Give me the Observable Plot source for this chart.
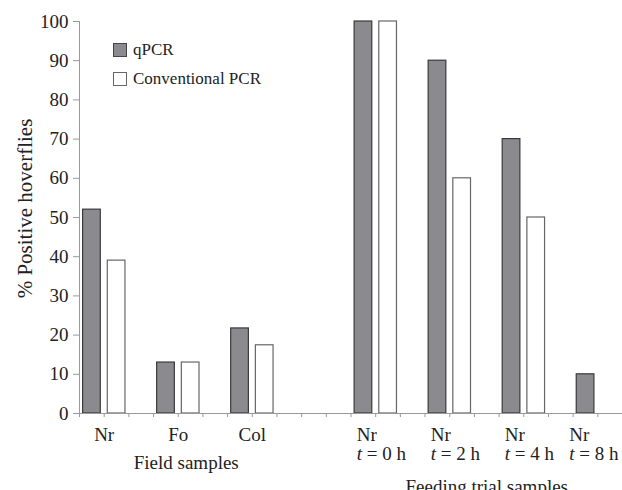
<!DOCTYPE html>
<html>
<head>
<meta charset="utf-8">
<script src="https://cdn.jsdelivr.net/npm/d3@7"></script>
<script src="https://cdn.jsdelivr.net/npm/@observablehq/plot@0.6"></script>
<style>
  html, body { margin: 0; padding: 0; background: white; }
  #wrap { position: relative; width: 622px; height: 490px; overflow: hidden; }
  .legend { position: absolute; left: 113px; top: 43px; font-family: "Liberation Serif", "Times New Roman", "DejaVu Serif", serif; font-size: 17px; color: #222; }
  .legend .row { display: flex; align-items: center; height: 14px; margin-bottom: 15px; }
  .legend .sw { width: 14px; height: 14px; box-sizing: border-box; margin-right: 6px; }
</style>
</head>
<body>
<div id="wrap">
  <div id="chart"></div>
  <div class="legend">
    <div class="row"><div class="sw" style="background:#8b8b8f;border:1px solid #444"></div><span>qPCR</span></div>
    <div class="row"><div class="sw" style="background:#fff;border:1px solid #666"></div><span>Conventional PCR</span></div>
  </div>
</div>
<script>
// ---- data ----
const groups = ["Nr", "Fo", "Col", "Nr", "Nr", "Nr", "Nr"];
const times = ["", "", "", "t = 0 h", "t = 2 h", "t = 4 h", "t = 8 h"];
const sections = ["Field samples", "Field samples", "Field samples",
  "Feeding trial samples", "Feeding trial samples", "Feeding trial samples", "Feeding trial samples"];
const qpcr = [52, 13, 21.7, 100, 90, 70, 10];
const conventional = [39, 13, 17.4, 100, 60, 50, 0];
const yTicks = [0, 10, 20, 30, 40, 50, 60, 70, 80, 90, 100];
const seriesNames = ["qPCR", "Conventional PCR"];

// ---- layout of slots (2 bars + 1 gap per group, 2 extra gap slots between sections) ----
const slots = [];
let s = 0;
groups.forEach((g, i) => {
  if (i > 0 && sections[i] !== sections[i - 1]) s += 2;
  slots.push(s);
  s += 3;
});
const nSlots = s - 1;

const bars = [];
groups.forEach((g, i) => {
  bars.push({slot: slots[i], value: qpcr[i], series: seriesNames[0]});
  bars.push({slot: slots[i] + 1, value: conventional[i], series: seriesNames[1]});
});
const groupData = groups.map((g, i) => ({
  name: g, time: times[i], section: sections[i], center: slots[i] + 1,
  label: times[i] ? g + "\n" + times[i] : g
}));
const sectionNames = [...new Set(sections)];
const sectionData = sectionNames.map(n => ({name: n, center: d3.mean(groupData.filter(d => d.section === n), d => d.center)}));

const font = "'Liberation Serif', 'Times New Roman', 'DejaVu Serif', serif";
const chart = Plot.plot({
  width: 622,
  height: 490,
  marginLeft: 79,
  marginRight: 0,
  marginTop: 21,
  marginBottom: 77,
  style: {fontFamily: font, fontSize: "19px", color: "#222", background: "white"},
  x: {domain: [0, nSlots], axis: null},
  y: {domain: [0, 100], axis: null},
  marks: [
    Plot.rect(bars.filter(d => d.value > 0), {
      x1: "slot",
      x2: d => d.slot + 1,
      y1: 0,
      y2: "value",
      fill: d => d.series === "qPCR" ? "#8b8b8f" : "#ffffff",
      stroke: d => d.series === "qPCR" ? "#3a3a3a" : "#666",
      strokeWidth: 1.2,
      insetLeft: 3.6,
      insetRight: 3.4
    }),
    Plot.ruleX([0], {stroke: "#999", strokeWidth: 1}),
    Plot.ruleY([0], {stroke: "#999", strokeWidth: 1}),
    Plot.axisY({ticks: yTicks, tickSize: 6, tickPadding: 5, stroke: "#999", fill: "#222", fontSize: 19, label: null}),
    Plot.axisX({ticks: d3.range(0, nSlots + 1), tickFormat: () => "", tickSize: 4, stroke: "#999", label: null}),
    // y label
    Plot.text(["% Positive hoverflies"], {frameAnchor: "left", rotate: -90, textAnchor: "middle", lineAnchor: "bottom", dx: -48, dy: -9, fontSize: 21, fill: "#222"}),
    // field category labels
    Plot.text(groupData.filter(d => d.time === ""), {x: "center", y: 0, text: "label", dy: 27, lineAnchor: "bottom", textAnchor: "middle", fill: "#222"}),
    // feeding category labels (two lines)
    Plot.text(groupData.filter(d => d.time !== ""), {x: "center", y: 0, text: "label", dy: 46, dx: -19, lineAnchor: "bottom", textAnchor: "start", lineHeight: 1, fill: "#222", className: "tline"}),
    // section labels
    Plot.text(sectionData.filter(d => d.name === sectionNames[0]), {x: "center", y: 0, text: "name", dy: 55, dx: 8, lineAnchor: "bottom", textAnchor: "middle", fill: "#222"}),
    Plot.text(sectionData.filter(d => d.name === sectionNames[1]), {x: "center", y: 0, text: "name", dy: 79, lineAnchor: "bottom", textAnchor: "middle", fill: "#222"})
  ]
});
document.getElementById("chart").appendChild(chart);

// italic "t" in time labels, and keep labels inside the right edge
const ns = "http://www.w3.org/2000/svg";
chart.querySelectorAll(".tline text").forEach(t => {
  const spans = t.querySelectorAll("tspan");
  spans.forEach(sp => {
    const str = sp.textContent;
    if (str.startsWith("t ")) {
      sp.textContent = "";
      const a = document.createElementNS(ns, "tspan");
      a.setAttribute("font-style", "italic");
      a.textContent = "t";
      const b = document.createElementNS(ns, "tspan");
      b.textContent = str.slice(1);
      sp.appendChild(a);
      sp.appendChild(b);
    }
  });
  const r = t.getBoundingClientRect();
  const svgR = chart.getBoundingClientRect();
  const over = r.right - (svgR.right - 3);
  if (over > 0) {
    t.setAttribute("transform", (t.getAttribute("transform") || "") + ` translate(${-over},0)`);
  }
});
</script>
</body>
</html>
